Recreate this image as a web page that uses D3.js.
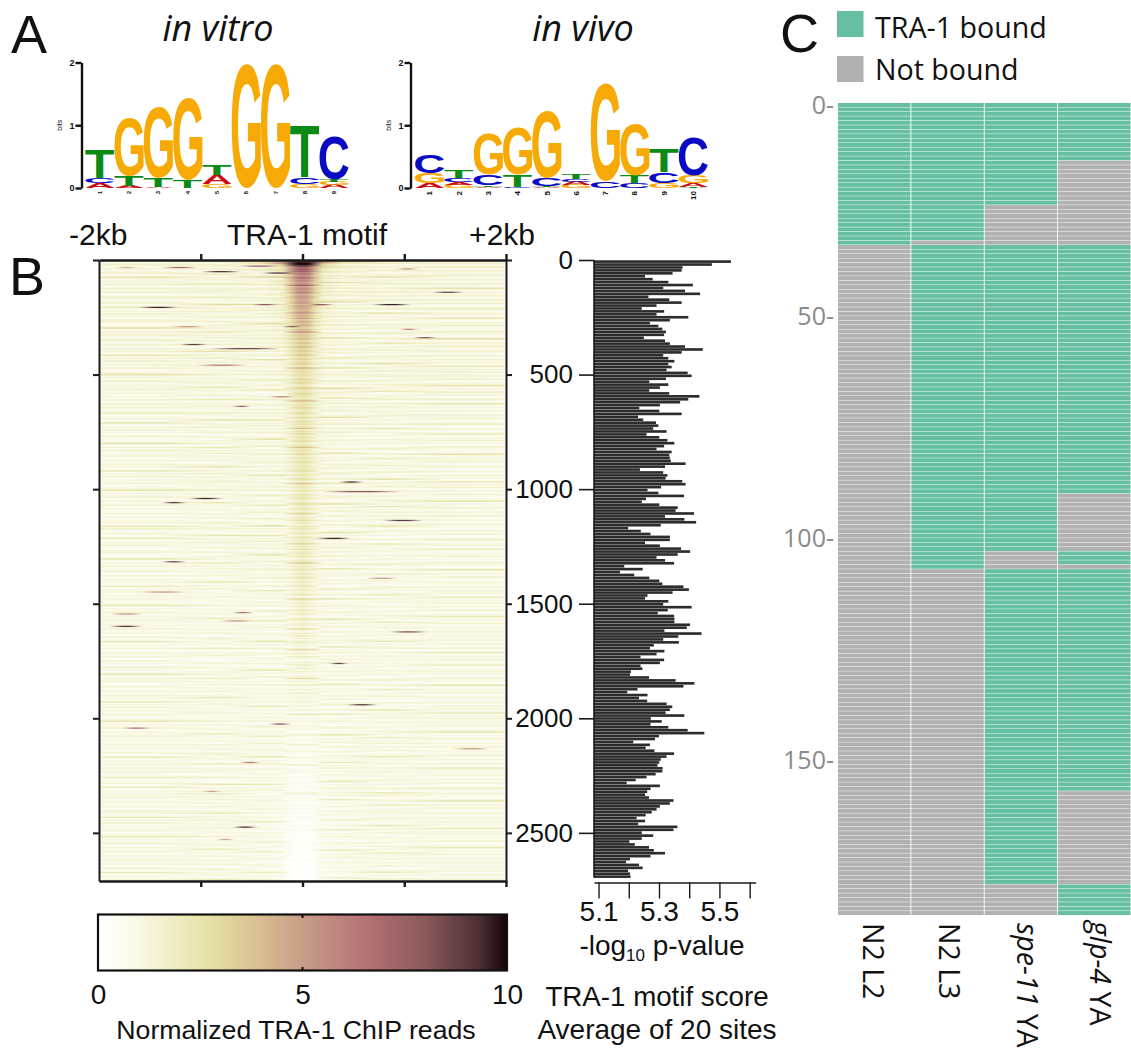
<!DOCTYPE html>
<html>
<head>
<meta charset="utf-8">
<script src="https://cdn.jsdelivr.net/npm/d3@7"></script>
<style>
  body { margin: 0; background: #fff; }
  svg { display: block; }
  text { fill: #111; }
  .helv { font-family: "Liberation Sans", sans-serif; }
  .open { font-family: "Open Sans", sans-serif; }
</style>
</head>
<body>
<svg id="fig" width="1131" height="1053"></svg>
<script>
// panel A: logo stacks, bottom letter first, heights in bits
const vitroLogo = [
  [['A', .08], ['C', .08], ['T', .45]],
  [['A', .03], ['T', .16], ['G', .93]],
  [['A', .02], ['T', .14], ['G', 1.13]],
  [['T', .13], ['G', 1.31]],
  [['G', .06], ['A', .15], ['T', .16]],
  [['G', 1.98]],
  [['G', 1.98]],
  [['G', .07], ['C', .11], ['T', .82]],
  [['A', .05], ['G', .05], ['T', .03], ['C', .7]]
]
const vivoLogo = [
  [['A', .08], ['G', .16], ['C', .3]],
  [['G', .05], ['A', .04], ['C', .07], ['T', .12]],
  [['A', .02], ['T', .02], ['C', .17], ['G', .65]],
  [['C', .02], ['T', .19], ['G', .76]],
  [['A', .01], ['T', .02], ['C', .13], ['G', 1.07]],
  [['G', .05], ['A', .05], ['C', .05], ['T', .08]],
  [['C', .1], ['G', 1.56]],
  [['C', .08], ['T', .12], ['G', .81]],
  [['G', .08], ['C', .17], ['T', .37]],
  [['T', .02], ['A', .05], ['G', .13], ['C', .61]]
]
const letterColors = { A: '#cc0a12', C: '#0a0ac4', G: '#f7aa06', T: '#0b8a16' }

const heatRanks = [0, 12, 30, 60, 100, 160, 250, 350, 500, 700, 1000, 1300, 1600, 1900, 2200, 2450, 2710]
const heatKb = [-2, -1.4, -.8, -.4, -.2, -.12, -.06, 0, .06, .12, .2, .4, .8, 1.4, 2]
const heatLevels = [
  [1.2, 1.3, 1.5, 2.5, 6, 9.5, 10, 10, 10, 9.5, 6, 2.5, 1.5, 1.3, 1.2],
  [1.2, 1.2, 1.3, 2, 4.5, 8.5, 10, 10, 10, 8.5, 4, 2, 1.3, 1.2, 1.2],
  [1.2, 1.2, 1.2, 1.5, 2.4, 5, 7.5, 8, 7.5, 5, 2.4, 1.5, 1.2, 1.2, 1.2],
  [1.1, 1.2, 1.2, 1.3, 1.8, 4, 6, 6.5, 6, 4, 1.8, 1.3, 1.2, 1.2, 1.1],
  [1.1, 1.2, 1.2, 1.2, 1.7, 3.6, 5.4, 5.8, 5.4, 3.6, 1.7, 1.2, 1.2, 1.2, 1.1],
  [1.1, 1.1, 1.2, 1.2, 1.6, 3, 4.8, 5.2, 4.8, 3, 1.6, 1.2, 1.2, 1.1, 1.1],
  [1.1, 1.1, 1.1, 1.1, 1.4, 2.5, 4, 4.4, 4, 2.5, 1.4, 1.1, 1.1, 1.1, 1.1],
  [1.1, 1.1, 1.1, 1.1, 1.3, 2.1, 3.2, 3.6, 3.2, 2.1, 1.3, 1.1, 1.1, 1.1, 1.1],
  [1, 1.1, 1.1, 1.1, 1.2, 1.7, 2.5, 2.8, 2.5, 1.7, 1.2, 1.1, 1.1, 1.1, 1],
  [1, 1, 1, 1, 1.1, 1.5, 2.3, 2.5, 2.3, 1.5, 1.1, 1, 1, 1, 1],
  [.9, 1, 1, 1, 1.05, 1.4, 2, 2.3, 2, 1.4, 1.05, 1, 1, 1, .9],
  [.9, .9, .9, .95, 1, 1.2, 1.8, 2, 1.8, 1.2, 1, .95, .9, .9, .9],
  [.9, .9, .9, .9, .95, 1.05, 1.4, 1.6, 1.4, 1.05, .95, .9, .9, .9, .9],
  [.9, .9, .9, .9, .9, .95, 1, 1.1, 1, .95, .9, .9, .9, .9, .9],
  [.9, .9, .9, .9, .85, .7, .6, .55, .6, .7, .85, .9, .9, .9, .9],
  [.9, .9, .9, .85, .75, .45, .3, .25, .3, .45, .75, .85, .9, .9, .9],
  [.9, .9, .9, .8, .6, .2, .05, .02, .05, .2, .6, .8, .9, .9, .9]
]
// short list of row to row shifts, estimated and reused down the rows
// (the real image has far too many rows to read one at a time)
const rowTexture = [.2, -.3, .1, .5, -.4, -.1, .3, -.5, 0, .4, -.2, -.5, 1.3, .1, -.3, .2, -.4, .3, 0, -.6, .4, .1, -.2, .5, -.3, -.5, .2, .7, -.1, -.4, .1, .3, -.5, 0, 1.1, -.2, -.4, .2, -.1, .6, -.3, .1, -.6, .3, .4, -.2, 0, -.5, .2, 1.5, -.4, -.1, .3, -.3, .6, 0, -.5, .1, .4, -.2, -.4, .3, .1, -.6, .5, -.1, .2, -.3, 0, 1.2, -.5, .3, -.2, .6, -.4, .1, .2, -.3, .5, -.1, -.5, 0, .3, 1.4, -.4, .2, -.2, .1, .6, -.5, -.1, .3, -.3, .2, .5, -.4, 0]
const texturePhase = [0, 0, 17, 37, 37, 31, 31, 31, 31, 31, 53, 53, 71, 89, 89]
// single dark lines: rank, from kb, to kb, level
const heatStreaks = [
  [31, -1.82, -1.63, 4.5], [31, -1.37, -1.04, 7], [52, -.99, -.61, 9], [26, -.61, -.25, 7], [57, -.39, -.09, 9],
  [209, -1.6, -1.23, 9.5], [192, -.49, -.25, 8], [192, .69, 1.06, 9.5], [196, .07, .3, 8], [140, 1.28, 1.58, 8.5],
  [39, .93, 1.13, 5], [371, -1.2, -.94, 9], [388, -.91, -.22, 8.5], [340, 1.09, 1.32, 8], [305, .96, 1.13, 6],
  [292, -1.27, -.98, 5], [458, -1.04, -.55, 6], [292, -.19, -.02, 8], [637, -.68, -.52, 8], [598, -.32, -.09, 6],
  [1038, -1.11, -.79, 9.5], [1056, -1.37, -1.15, 9], [969, .37, .59, 9], [1008, .2, .96, 8], [1139, .79, 1.18, 9],
  [1213, .14, .47, 9.5], [1318, -1.38, -1.15, 8.5], [1449, -1.6, -1.14, 5], [1597, -1.89, -1.58, 9], [1545, -1.89, -1.57, 5],
  [1540, -.68, -.49, 7], [1575, -.81, -.49, 5], [1623, .86, 1.22, 8], [1758, .27, .44, 9], [1387, .63, .93, 5],
  [1942, .44, .73, 9], [2042, -1.76, -1.5, 6.5], [2024, -.32, -.12, 8], [2474, -.68, -.45, 9], [2134, 1.48, 1.84, 5],
  [2190, -.61, -.42, 6.5], [2531, -.84, -.68, 5], [2317, -.98, -.81, 5]
]
const colorKeyLevels = [0, 1, 2.7, 4, 5, 6.6, 8, 9.3, 10]
const colorKeyColors = ['#ffffff', '#f9f8e2', '#e6e2a5', '#d8bd90', '#c89d88', '#b57074', '#8b5a5c', '#4b2f33', '#150306']
const rankTicks = [0, 500, 1000, 1500, 2000, 2500]

// panel B right: motif score, top bar first
const motifScores = [
  5.538, 5.475, 5.378, 5.375, 5.345, 5.254, 5.279, 5.331, 5.412, 5.314, 5.386, 5.436, 5.265, 5.334, 5.375, 5.292, 5.243, 5.317, 5.292, 5.397,
  5.336, 5.27, 5.298, 5.311, 5.323, 5.317, 5.25, 5.32, 5.336, 5.386, 5.445, 5.375, 5.314, 5.331, 5.351, 5.331, 5.342, 5.325, 5.395, 5.408,
  5.323, 5.268, 5.331, 5.303, 5.268, 5.334, 5.434, 5.397, 5.37, 5.303, 5.235, 5.301, 5.375, 5.231, 5.248, 5.29, 5.298, 5.281, 5.325, 5.259,
  5.301, 5.328, 5.351, 5.317, 5.292, 5.342, 5.334, 5.336, 5.339, 5.388, 5.32, 5.237, 5.314, 5.328, 5.322, 5.377, 5.388, 5.307, 5.262, 5.298,
  5.383, 5.257, 5.243, 5.301, 5.362, 5.355, 5.416, 5.32, 5.384, 5.423, 5.306, 5.198, 5.24, 5.272, 5.336, 5.336, 5.254, 5.303, 5.373, 5.403,
  5.362, 5.292, 5.32, 5.35, 5.185, 5.246, 5.171, 5.218, 5.268, 5.301, 5.311, 5.381, 5.399, 5.345, 5.262, 5.254, 5.331, 5.314, 5.408, 5.329,
  5.296, 5.35, 5.351, 5.351, 5.403, 5.392, 5.318, 5.441, 5.364, 5.314, 5.366, 5.283, 5.27, 5.318, 5.292, 5.239, 5.317, 5.303, 5.239, 5.245,
  5.207, 5.204, 5.267, 5.355, 5.417, 5.381, 5.229, 5.195, 5.262, 5.234, 5.261, 5.325, 5.344, 5.336, 5.322, 5.384, 5.273, 5.309, 5.272, 5.331,
  5.395, 5.45, 5.3, 5.287, 5.215, 5.27, 5.256, 5.285, 5.35, 5.325, 5.306, 5.301, 5.295, 5.312, 5.311, 5.289, 5.259, 5.223, 5.193, 5.303,
  5.272, 5.261, 5.254, 5.267, 5.348, 5.336, 5.303, 5.292, 5.276, 5.256, 5.226, 5.254, 5.231, 5.361, 5.348, 5.243,
  5.281, 5.243, 5.202, 5.22, 5.267, 5.283, 5.32, 5.272, 5.204, 5.191, 5.234, 5.246, 5.198, 5.204, 5.206
]
const scoreTicks = [5.1, 5.2, 5.3, 5.4, 5.5, 5.6]
const scoreLabels = [5.1, 5.3, 5.5]

// panel C: rows where each strain is bound, [first, last) in row numbers
const strains = ['N2 L2', 'N2 L3', 'spe-11 YA', 'glp-4 YA']
const boundN2L2 = [[0, 32]]
const boundN2L3 = [[0, 31], [32, 105]]
const boundSpe11 = [[0, 23], [32, 101], [105, 176]]
const boundGlp4 = [[0, 13], [32, 88], [101, 104], [105, 155], [176, 183]]
const rowCount = 183
const rowTicks = [0, 50, 100, 150]

const svg = d3.select('#fig')

function addText(x, y, str, size, opts = {}) {
  return svg.append('text')
    .attr('x', x)
    .attr('y', y)
    .attr('class', opts.cls || 'helv')
    .attr('font-size', size)
    .attr('text-anchor', opts.anchor || 'start')
    .attr('font-style', opts.italic ? 'italic' : null)
    .text(str)
}

// panel letters and titles
addText(11, 53, 'A', 54)
addText(9, 295, 'B', 54)
addText(780, 52, 'C', 54)
addText(218, 41, 'in vitro', 36, { cls: 'open', anchor: 'middle', italic: true })
addText(583, 41, 'in vivo', 36, { cls: 'open', anchor: 'middle', italic: true })

/* ---------- logos ---------- */

const measure = document.createElement('canvas').getContext('2d')
measure.font = 'bold 100px "Liberation Sans"'

function drawLogo(stacks, left, right, axisX, rotatedSize) {
  let xs = d3.scaleBand().domain(d3.range(stacks.length)).range([left, right])
  let ys = d3.scaleLinear().domain([0, 2]).range([188, 62.5])
  let g = svg.append('g')

  stacks.forEach((stack, i) => {
    let base = 0
    stack.forEach(([letter, bits]) => {
      let m = measure.measureText(letter)
      let inkW = m.actualBoundingBoxRight + m.actualBoundingBoxLeft
      let inkH = m.actualBoundingBoxAscent + m.actualBoundingBoxDescent
      let sx = xs.bandwidth() / inkW
      let sy = (ys(0) - ys(bits)) / inkH
      let px = xs(i) + m.actualBoundingBoxLeft * sx
      let py = ys(base) - m.actualBoundingBoxDescent * sy
      g.append('text')
        .attr('class', 'helv')
        .attr('font-weight', 'bold')
        .attr('font-size', 100)
        .style('fill', letterColors[letter])
        .attr('transform', `translate(${px},${py}) scale(${sx},${sy})`)
        .text(letter)
      base += bits
    })
    g.append('text')
      .attr('class', 'helv')
      .attr('font-size', rotatedSize)
      .attr('font-weight', 'bold')
      .attr('text-anchor', 'end')
      .attr('transform', `translate(${xs(i) + xs.bandwidth() / 2 + rotatedSize / 3},191) rotate(-90)`)
      .text(i + 1)
  })

  let axis = d3.axisLeft(ys).tickValues([0, 1, 2]).tickSize(6).tickPadding(1).tickSizeOuter(0).tickFormat(d3.format('d'))
  let ag = svg.append('g').attr('transform', `translate(${axisX},0)`).call(axis)
  ag.selectAll('path,line').attr('stroke', '#111').attr('stroke-width', 2.4)
  ag.selectAll('text').attr('class', 'helv').attr('font-size', 9).attr('font-weight', 'bold')
  svg.append('text')
    .attr('class', 'helv')
    .attr('font-size', 7)
    .attr('text-anchor', 'middle')
    .attr('transform', `translate(${axisX - 20},${ys(1)}) rotate(-90)`)
    .text('bits')
}

drawLogo(vitroLogo, 85.3, 348.7, 81.5, 6)
drawLogo(vivoLogo, 415, 708, 410.5, 8)

/* ---------- heatmap ---------- */

const heatX = d3.scaleLinear().domain([-2, 2]).range([99, 506])
const heatY = d3.scaleLinear().domain([0, 2710]).range([260, 881])
const heatColor = d3.scaleLinear().domain(colorKeyLevels).range(colorKeyColors).clamp(true)
const rankToLevel = heatKb.map((kb, j) =>
  d3.scaleLinear().domain(heatRanks).range(heatLevels.map(row => row[j]))
)

const rowStep = 6
const heatRows = d3.range(0, 2710, rowStep)
const defs = svg.append('defs')

defs.append('clipPath').attr('id', 'heatClip').append('rect')
  .attr('x', heatX(-2)).attr('y', heatY(0))
  .attr('width', heatX(2) - heatX(-2)).attr('height', heatY(2710) - heatY(0))

let blur = defs.append('filter').attr('id', 'soften')
  .attr('x', 0).attr('y', 0).attr('width', 1).attr('height', 1)
blur.append('feGaussianBlur').attr('stdDeviation', '2 0.6')

function rowStops(rank, i) {
  let stops = heatKb.map((kb, j) => {
    let v = rankToLevel[j](rank)
    // shift the list a little each time round so the stripes do not line up
    let idx = i + texturePhase[j] + Math.floor(i / rowTexture.length) * 13
    let shift = rowTexture[idx % rowTexture.length] * 1.25 * Math.min(1, v)
    return { kb, v: Math.max(0, v + shift) }
  })
  heatStreaks
    .filter(s => Math.floor(s[0] / rowStep) === i)
    .forEach(([r, from, to, level]) => {
      let base = d3.scaleLinear().domain(stops.map(d => d.kb)).range(stops.map(d => d.v))
      let span = to - from
      stops = stops.filter(d => d.kb < from || d.kb > to)
      stops.push(
        { kb: from, v: base(from) },
        { kb: from + span * 0.35, v: level },
        { kb: to - span * 0.35, v: level },
        { kb: to, v: base(to) }
      )
      stops.sort((a, b) => a.kb - b.kb)
    })
  return stops
}

heatRows.forEach((rank, i) => {
  let grad = defs.append('linearGradient').attr('id', 'row' + i)
  rowStops(rank, i).forEach(d => {
    grad.append('stop')
      .attr('offset', (d.kb + 2) / 4)
      .attr('stop-color', heatColor(d.v))
  })
})

svg.append('g')
  .attr('clip-path', 'url(#heatClip)')
  .append('g')
  .attr('filter', 'url(#soften)')
  .selectAll('rect')
  .data(heatRows)
  .join('rect')
  .attr('x', heatX(-2))
  .attr('y', d => heatY(d))
  .attr('width', heatX(2) - heatX(-2))
  .attr('height', heatY(rowStep) - heatY(0) + 0.4)
  .attr('fill', (d, i) => `url(#row${i})`)

function styleAxis(g, width = 2) {
  g.selectAll('path,line').attr('stroke', '#1a1a1a').attr('stroke-width', width)
  return g
}

const frameKb = [-1, 0, 1, 2]
styleAxis(svg.append('g').attr('transform', `translate(0,${heatY(0)})`)
  .call(d3.axisTop(heatX).tickValues(frameKb).tickSize(6).tickSizeOuter(0).tickFormat('')), 2.4)
styleAxis(svg.append('g').attr('transform', `translate(0,${heatY(2710)})`)
  .call(d3.axisBottom(heatX).tickValues(frameKb).tickSize(6).tickSizeOuter(0).tickFormat('')), 2.4)
styleAxis(svg.append('g').attr('transform', `translate(${heatX(-2)},0)`)
  .call(d3.axisLeft(heatY).tickValues(rankTicks).tickSize(6).tickSizeOuter(0).tickFormat('')))
styleAxis(svg.append('g').attr('transform', `translate(${heatX(2)},0)`)
  .call(d3.axisRight(heatY).tickValues(rankTicks).tickSize(6).tickSizeOuter(0).tickFormat('')))

addText(69, 245, '-2kb', 30)
addText(307, 245, 'TRA-1 motif', 30, { anchor: 'middle' })
addText(535, 245, '+2kb', 30, { anchor: 'end' })

/* ---------- motif score bars ---------- */

const scoreX = d3.scaleLinear().domain([5.085, 5.62]).range([594, 755.7])
const barY = d3.scaleBand().domain(d3.range(motifScores.length)).range([heatY(0), heatY(2698)]).padding(0.1)

svg.append('g')
  .selectAll('rect')
  .data(motifScores)
  .join('rect')
  .attr('x', scoreX(5.085))
  .attr('y', (d, i) => barY(i))
  .attr('width', d => scoreX(d) - scoreX(5.085))
  .attr('height', barY.bandwidth())
  .attr('fill', '#2c2c2c')

let rankAxis = d3.axisLeft(heatY).tickValues(rankTicks).tickSize(15).tickPadding(6).tickSizeOuter(0).tickFormat(d3.format('d'))
let rankG = styleAxis(svg.append('g').attr('transform', `translate(${scoreX(5.085)},0)`).call(rankAxis), 1.6)
rankG.selectAll('text').attr('class', 'helv').attr('font-size', 26)
rankG.select('.domain').attr('d', `M0,${heatY(0)}V${heatY(2695)}`)

let scoreAxis = d3.axisBottom(scoreX).tickValues(scoreTicks).tickSize(16).tickPadding(3).tickSizeOuter(0)
  .tickFormat(d => (scoreLabels.includes(d) ? d3.format('.1f')(d) : ''))
let scoreG = styleAxis(svg.append('g').attr('transform', 'translate(0,882.5)').call(scoreAxis), 1.4)
scoreG.selectAll('text').attr('class', 'helv').attr('font-size', 28)

let logLabel = addText(662, 955, '-log', 28, { anchor: 'middle' })
logLabel.append('tspan').attr('font-size', 17).attr('dy', 6).text('10')
logLabel.append('tspan').attr('dy', -6).text(' p-value')
addText(657, 1006, 'TRA-1 motif score', 27.7, { anchor: 'middle' })
addText(657, 1039, 'Average of 20 sites', 28, { anchor: 'middle' })

/* ---------- color key ---------- */

const keyX = d3.scaleLinear().domain([0, 10]).range([98, 507])
let keyGrad = defs.append('linearGradient').attr('id', 'keyGrad')
colorKeyLevels.forEach((lvl, i) => {
  keyGrad.append('stop').attr('offset', lvl / 10).attr('stop-color', colorKeyColors[i])
})
svg.append('rect')
  .attr('x', keyX(0)).attr('y', 914.5)
  .attr('width', keyX(10) - keyX(0)).attr('height', 56)
  .attr('fill', 'url(#keyGrad)')
  .attr('stroke', '#111').attr('stroke-width', 2.2)
svg.append('g').selectAll('line')
  .data([[914.5, 918], [967, 970.5]])
  .join('line')
  .attr('x1', keyX(5)).attr('x2', keyX(5))
  .attr('y1', d => d[0]).attr('y2', d => d[1])
  .attr('stroke', '#111').attr('stroke-width', 2)
let keyG = svg.append('g').attr('transform', 'translate(0,984)')
  .call(d3.axisBottom(keyX).tickValues([0, 5, 10]).tickSize(0).tickPadding(0).tickFormat(d3.format('d')))
keyG.select('.domain').remove()
keyG.selectAll('text').attr('class', 'helv').attr('font-size', 28)
addText(296, 1039, 'Normalized TRA-1 ChIP reads', 26.7, { anchor: 'middle' })

/* ---------- panel C ---------- */

const cX = d3.scaleBand().domain(strains).range([838, 1131.4])
const cY = d3.scaleLinear().domain([0, rowCount]).range([103, 915.5])
const boundRuns = [boundN2L2, boundN2L3, boundSpe11, boundGlp4]
const cCells = []
strains.forEach((name, c) => {
  d3.range(rowCount).forEach(row => {
    cCells.push({ name, row, bound: boundRuns[c].some(r => row >= r[0] && row < r[1]) })
  })
})

svg.append('g').selectAll('rect')
  .data(cCells)
  .join('rect')
  .attr('x', d => cX(d.name))
  .attr('y', d => cY(d.row))
  .attr('width', cX.bandwidth() - 0.9)
  .attr('height', cY(1) - cY(0) - 0.45)
  .attr('fill', d => (d.bound ? '#66bfa3' : '#b1b1b1'))

// source figure prints these tick labels a couple of rows above their row
const rowTickPos = [0.5, 48, 98, 148]
rowTicks.forEach((t, i) => {
  addText(834, cY(rowTickPos[i]) + 9, t + '-', 25, { cls: 'open', anchor: 'end' }).style('fill', '#8a8a8a')
})

const labelShift = [25, 28, 32, 32]
strains.forEach((name, i) => {
  let parts = name.split(' ')
  let t = svg.append('text')
    .attr('class', 'open')
    .attr('font-size', 28.5)
    .attr('transform', `translate(${cX(name) + labelShift[i]},${i === 3 ? 921 : 923}) rotate(90)`)
  if (i >= 2) {
    t.append('tspan').attr('font-style', 'italic').text(parts[0])
    t.append('tspan').text(' ' + parts[1])
  } else {
    t.text(name)
  }
})

const legendNames = ['TRA-1 bound', 'Not bound']
const legendFill = ['#66bfa3', '#b1b1b1']
const legendY = d3.scalePoint().domain(legendNames).range([11, 56])
const legendBase = [38, 80]
legendNames.forEach((name, i) => {
  svg.append('rect')
    .attr('x', 837).attr('y', legendY(name))
    .attr('width', 26.5).attr('height', 26)
    .attr('fill', legendFill[i])
  addText(875, legendBase[i], name, 28.6, { cls: 'open' })
})
</script>
</body>
</html>
